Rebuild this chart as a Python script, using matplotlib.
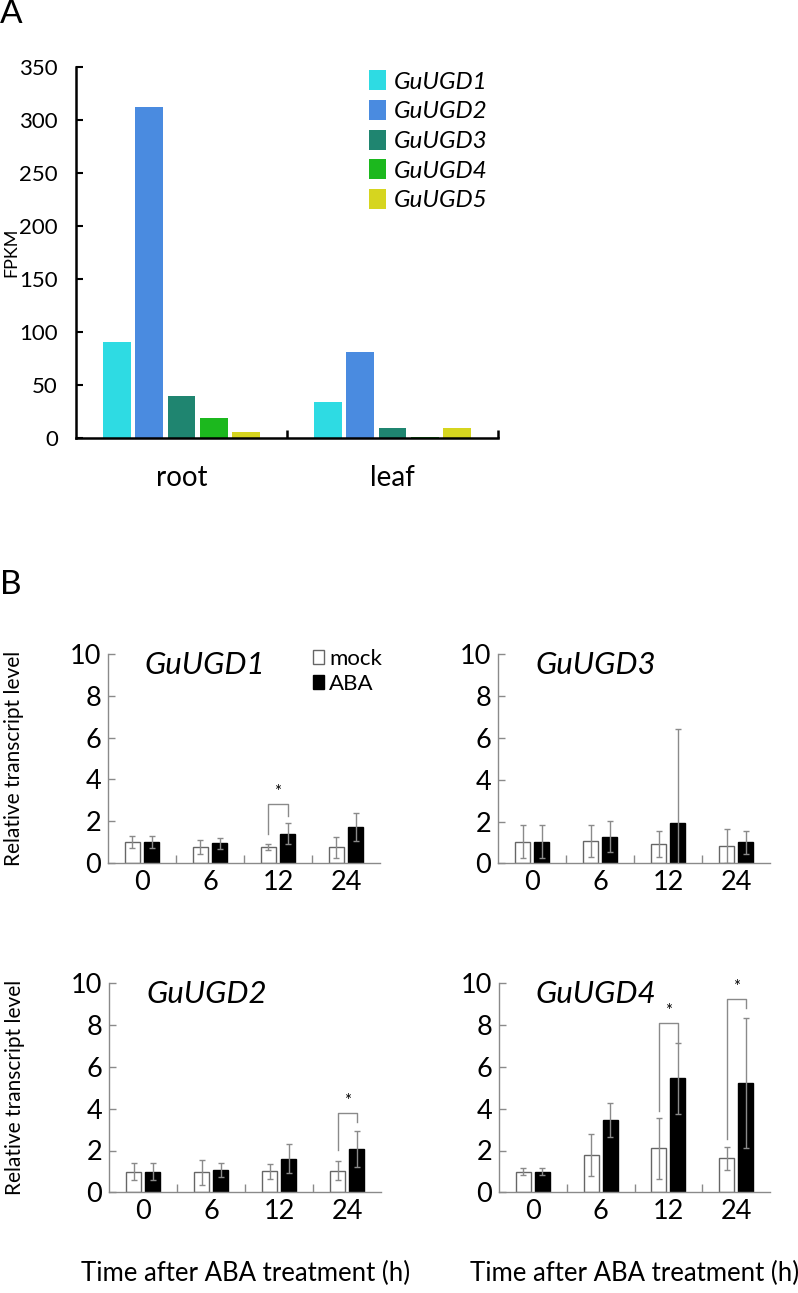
import numpy as np
import matplotlib
matplotlib.use('Agg')
import matplotlib.pyplot as plt

plt.rcParams['font.family'] = ['Lato', 'DejaVu Sans']

# ---- panel A data (FPKM) ----
tissues = ['root', 'leaf']
genes = ['GuUGD1', 'GuUGD2', 'GuUGD3', 'GuUGD4', 'GuUGD5']
fpkm = {
    'GuUGD1': [91, 34.5],
    'GuUGD2': [312, 81.5],
    'GuUGD3': [40, 9.4],
    'GuUGD4': [19.4, 1.2],
    'GuUGD5': [6.2, 9.4],
}
gene_colors = ['#2edbe3', '#4a8be0', '#1f8570', '#1cb81e', '#d6d51f']

# ---- panel B data (relative transcript level) ----
times = ['0', '6', '12', '24']
panels_b = ['GuUGD1', 'GuUGD3', 'GuUGD2', 'GuUGD4']
mock = {
    'GuUGD1': [1.0, 0.74, 0.74, 0.74],
    'GuUGD3': [1.04, 1.07, 0.93, 0.83],
    'GuUGD2': [0.99, 0.96, 1.0, 1.04],
    'GuUGD4': [0.99, 1.79, 2.1, 1.63],
}
mock_err = {
    'GuUGD1': [0.3, 0.33, 0.14, 0.5],
    'GuUGD3': [0.8, 0.77, 0.62, 0.8],
    'GuUGD2': [0.4, 0.59, 0.34, 0.46],
    'GuUGD4': [0.15, 0.99, 1.44, 0.55],
}
aba = {
    'GuUGD1': [1.0, 0.93, 1.39, 1.7],
    'GuUGD3': [1.04, 1.28, 1.91, 1.0],
    'GuUGD2': [0.99, 1.07, 1.6, 2.07],
    'GuUGD4': [0.99, 3.46, 5.45, 5.22],
}
aba_err = {
    'GuUGD1': [0.3, 0.27, 0.5, 0.67],
    'GuUGD3': [0.8, 0.75, 4.5, 0.55],
    'GuUGD2': [0.4, 0.32, 0.7, 0.88],
    'GuUGD4': [0.15, 0.83, 1.71, 3.1],
}
# significance brackets: gene, time index, left leg bottom, right leg bottom, top
sig = [
    ('GuUGD1', 2, 1.38, 2.24, 2.8),
    ('GuUGD2', 3, 2.03, 3.38, 3.78),
    ('GuUGD4', 2, 3.9, 7.16, 8.1),
    ('GuUGD4', 3, 2.55, 8.8, 9.23),
]

W, H = 798, 1293
fig = plt.figure(figsize=(W / 100, H / 100), dpi=100)


def px_axes(left, top, right, bottom):
    return fig.add_axes([left / W, 1 - bottom / H, (right - left) / W, (bottom - top) / H])


# ================= panel A =================
ax = px_axes(76, 66.7, 498, 438.3)
x = np.arange(len(tissues)) + 0.5
step, bw = 0.1535, 0.131
for i, g in enumerate(genes):
    ax.bar(x + (i - 2) * step, fpkm[g], width=bw, color=gene_colors[i], label=g)
ax.set_xlim(0, 2)
ax.set_ylim(0, 350)
ax.set_yticks(np.arange(0, 351, 50))
ax.set_xticks([1, 2])
ax.set_xticklabels([])
ax.set_xticks(x, minor=True)
ax.set_xticklabels(tissues, minor=True, fontsize=20)
ax.tick_params(axis='x', which='minor', length=0, pad=19)
ax.tick_params(axis='x', which='major', direction='in', length=6, width=1.8)
ax.tick_params(axis='y', direction='in', length=5, width=1.5, labelsize=16, pad=13)
for s in ['top', 'right']:
    ax.spines[s].set_visible(False)
for s in ['left', 'bottom']:
    ax.spines[s].set_linewidth(1.8)
ax.set_ylabel('FPKM', fontsize=13)
ax.yaxis.set_label_coords(-0.133, 0.5)
leg = ax.legend(loc='upper left', bbox_to_anchor=(0.694, 0.99), frameon=False,
                prop={'size': 17.5, 'style': 'italic'}, handlelength=0.72, handleheight=0.88,
                handletextpad=0.3, labelspacing=0.3, borderpad=0, borderaxespad=0)

fig.text(0, 1 - 14 / H, 'A', fontsize=24, va='center', ha='left')
fig.text(0, 1 - 585 / H, 'B', fontsize=24, va='center', ha='left')

# ================= panel B =================
boxes = {
    'GuUGD1': (108, 654.3, 380, 862.7),
    'GuUGD3': (498.3, 654.3, 770, 863.3),
    'GuUGD2': (109.3, 983.3, 381, 1192.3),
    'GuUGD4': (499, 983.3, 770, 1192.3),
}
grey = '#8a8a8a'
xb = np.arange(len(times)) + 0.5
off, bwb = 0.14, 0.22
for g in panels_b:
    ax = px_axes(*boxes[g])
    ax.bar(xb - off, mock[g], width=bwb, color='white', edgecolor='#666666', linewidth=1,
           yerr=mock_err[g], error_kw=dict(ecolor=grey, elinewidth=1, capsize=2, capthick=1),
           label='mock')
    ax.bar(xb + off, aba[g], width=bwb, color='black', edgecolor='black', linewidth=1,
           yerr=aba_err[g], error_kw=dict(ecolor=grey, elinewidth=1, capsize=2, capthick=1),
           label='ABA')
    for gg, ti, lb, rb, top in sig:
        if gg != g:
            continue
        ax.plot([xb[ti] - off, xb[ti] - off, xb[ti] + off, xb[ti] + off],
                [lb, top, top, rb], color=grey, lw=1)
        ax.text(xb[ti], top + 0.2, '*', ha='center', va='bottom', fontsize=12)
    ax.set_xlim(0, 4)
    ax.set_ylim(0, 10)
    ax.set_yticks(np.arange(0, 11, 2))
    ax.set_xticks([1, 2, 3])
    ax.set_xticklabels([])
    ax.set_xticks(xb, minor=True)
    ax.set_xticklabels(times, minor=True, fontsize=19.5)
    ax.tick_params(axis='x', which='minor', length=0, pad=5)
    ax.tick_params(axis='x', which='major', direction='in', length=6, width=1, color=grey)
    ax.tick_params(axis='y', direction='in', length=5, width=1, color=grey, labelsize=19.5, pad=5)
    for s in ['top', 'right']:
        ax.spines[s].set_visible(False)
    for s in ['left', 'bottom']:
        ax.spines[s].set_color(grey)
        ax.spines[s].set_linewidth(1)
    ax.text(0.135, 0.947, g, transform=ax.transAxes, fontsize=22.5, style='italic',
            ha='left', va='center')
    if g in ('GuUGD1', 'GuUGD2'):
        ax.set_ylabel('Relative transcript level', fontsize=15)
        ax.yaxis.set_label_coords(-0.31, 0.5)
    if g in ('GuUGD2', 'GuUGD4'):
        ax.set_xlabel('Time after ABA treatment (h)', fontsize=18.5)
        ax.xaxis.set_label_coords(0.5, -0.33)
    if g == 'GuUGD1':
        ax.legend(loc='upper left', bbox_to_anchor=(0.755, 1.025), frameon=False, fontsize=16,
                  handlelength=0.5, handleheight=0.6, handletextpad=0.2, labelspacing=0.2,
                  borderpad=0, borderaxespad=0)

fig.savefig('out.png', dpi=100)
